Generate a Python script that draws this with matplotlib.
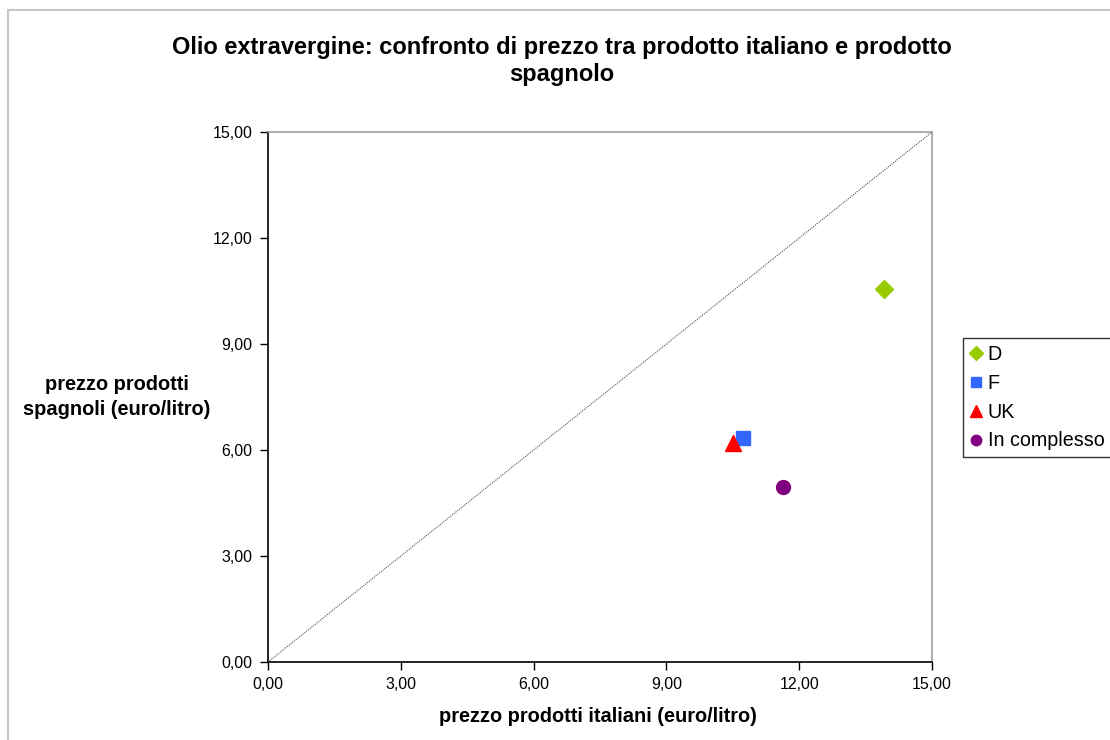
import matplotlib
matplotlib.use("Agg")
import matplotlib.pyplot as plt
from matplotlib.patches import Rectangle
from matplotlib.ticker import FuncFormatter

plt.rcParams['font.family'] = ['Liberation Sans', 'DejaVu Sans']

# Prices in euro/litre: Italian product (x) vs Spanish product (y)
series_names = ["D", "F", "UK", "In complesso"]
prezzo_italiani = [13.91, 10.73, 10.50, 11.63]
prezzo_spagnoli = [10.56, 6.34, 6.20, 4.95]
series_colors = ["#99cc00", "#3366ff", "#ff0000", "#800080"]
series_markers = ["D", "s", "^", "o"]
series_sizes = [9, 10, 11, 10]
tick_values = [0, 3, 6, 9, 12, 15]

fig = plt.figure(figsize=(11.1, 7.4), dpi=100)
ax = fig.add_axes([268 / 1110, 1 - 662 / 740, (932 - 268) / 1110, (662 - 132) / 740])

# Outer chart border
fig.patches.append(Rectangle((8 / 1110, -0.1), 1.2, 1 - 10 / 740 + 0.1,
                             transform=fig.transFigure, fill=False,
                             edgecolor="#c8c8c8", linewidth=1.5))

# Parity line
ax.plot([0, 15], [0, 15], linestyle=(0, (1, 1)), color="#555555", linewidth=0.8, zorder=1)

for name, x, y, c, m, s in zip(series_names, prezzo_italiani, prezzo_spagnoli,
                               series_colors, series_markers, series_sizes):
    ax.plot([x], [y], linestyle="none", marker=m, markersize=s, color=c,
            markeredgecolor=c, label=name, zorder=3)

ax.set_xlim(0, 15)
ax.set_ylim(0, 15)
ax.set_xticks(tick_values)
ax.set_yticks(tick_values)
fmt = FuncFormatter(lambda v, p: f"{v:.2f}".replace(".", ","))
ax.xaxis.set_major_formatter(fmt)
ax.yaxis.set_major_formatter(fmt)
ax.tick_params(direction="out", length=6, width=1, labelsize=11.5, colors="black", pad=5)

ax.spines["left"].set_color("black")
ax.spines["bottom"].set_color("black")
ax.spines["top"].set_color("#a0a0a0")
ax.spines["right"].set_color("#a0a0a0")
for sp in ax.spines.values():
    sp.set_linewidth(1.2)

fig.text(562 / 1110, 1 - 61 / 740,
         "Olio extravergine: confronto di prezzo tra prodotto italiano e prodotto\nspagnolo",
         ha="center", va="center", fontsize=17, fontweight="bold", linespacing=1.2)
fig.text(598 / 1110, 1 - 717 / 740, "prezzo prodotti italiani (euro/litro)",
         ha="center", va="center", fontsize=14.4, fontweight="bold")
fig.text(117 / 1110, 1 - 397 / 740, "prezzo prodotti\nspagnoli (euro/litro)",
         ha="center", va="center", fontsize=14.4, fontweight="bold", linespacing=1.35)

leg = fig.legend(loc="upper left", bbox_to_anchor=(963 / 1110, 1 - 338 / 740),
                 frameon=True, fancybox=False, fontsize=14.2, handlelength=0.6,
                 handletextpad=0.3, borderpad=0.35, labelspacing=0.5, borderaxespad=0,
                 markerscale=0.75)
leg.get_frame().set_edgecolor("black")
leg.get_frame().set_linewidth(1.0)

fig.savefig("out.png", dpi=100)
